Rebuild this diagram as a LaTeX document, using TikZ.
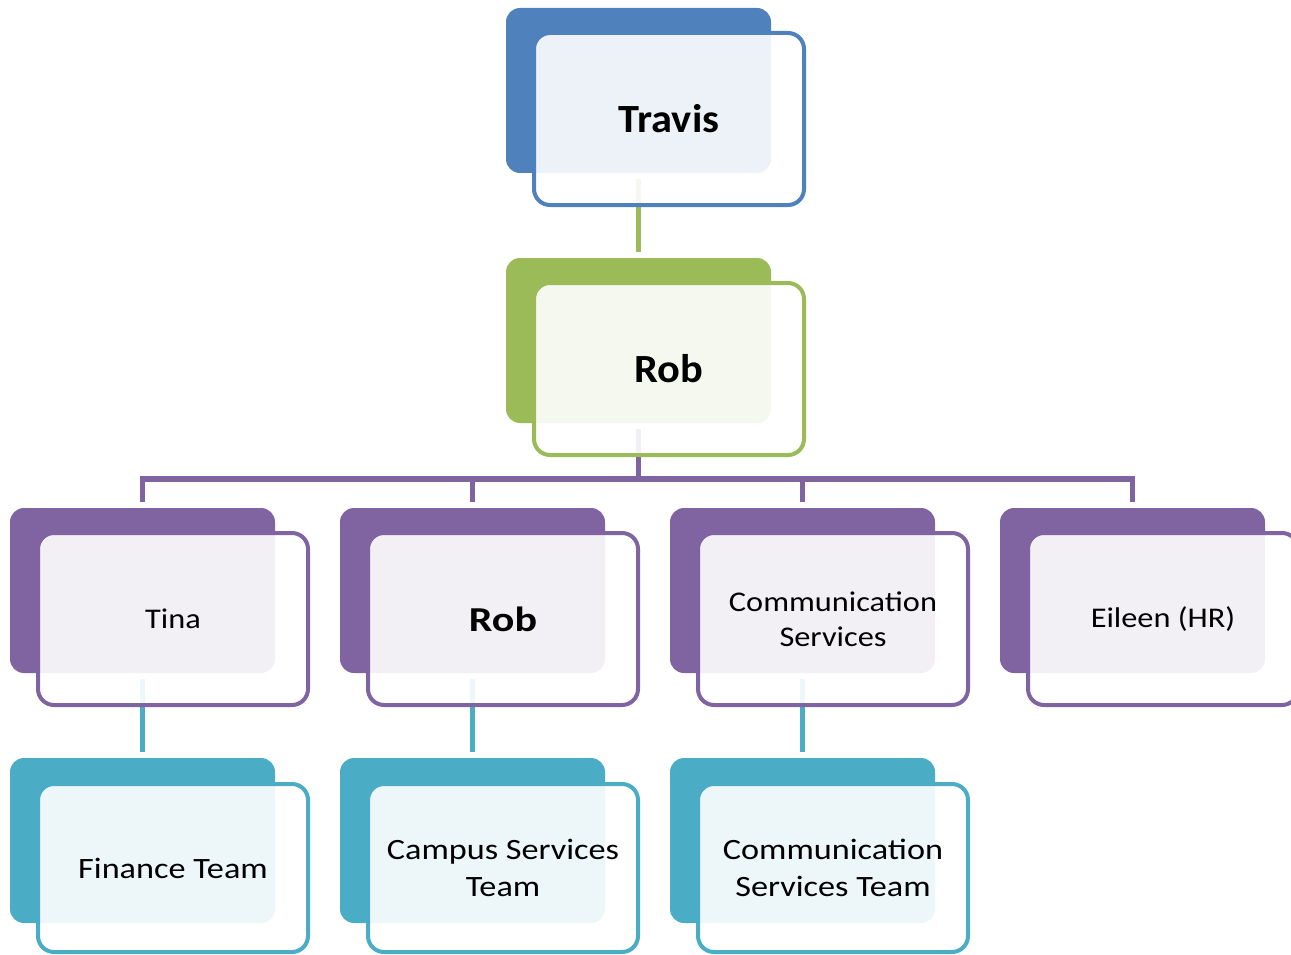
\documentclass[tikz,border=0pt]{standalone}
\usepackage{fontspec}
\setmainfont{Carlito}
\newfontfamily\topfont[FakeStretch=1.06]{Carlito}
\newfontfamily\rowfont[FakeStretch=1.16]{Carlito}
\newfontfamily\midfont[FakeStretch=1.135]{Carlito}
\newfontfamily\robfont[FakeStretch=1.2]{Carlito}
\usetikzlibrary{calc}
\definecolor{cblue}{HTML}{4F81BD}
\definecolor{cgreen}{HTML}{9BBB59}
\definecolor{cpurple}{HTML}{8064A2}
\definecolor{cteal}{HTML}{4BACC6}
\tikzset{
  backbox/.style={draw=none, fill=#1, rounded corners=14pt, minimum width=265pt, minimum height=165pt, inner sep=0pt, outer sep=0pt, anchor=north west},
  frontbox/.style={draw=#1, line width=4pt, fill=white, fill opacity=0.9, text opacity=1, rounded corners=16pt, minimum width=270pt, minimum height=172pt, inner sep=0pt, align=center, font=\midfont\fontsize{28.5}{35}\selectfont},
  lowbox/.style={frontbox=#1, minimum height=168pt, font=\rowfont\fontsize{29.5}{37}\selectfont},
  link/.style={draw=#1, line width=5.5pt},
  bigtext/.style={font=\topfont\fontsize{40}{46}\selectfont\bfseries},
  midtext/.style={font=\robfont\fontsize{35}{40}\selectfont\bfseries},
}
\begin{document}
\begin{tikzpicture}[x=1pt,y=-1pt]
\useasboundingbox (0,0) rectangle (1291,955);
\clip (0,0) rectangle (1291,955);
% back boxes
\node[backbox=cblue] (travisB) at (506,8) {};
\node[backbox=cgreen] (robB) at (506,258) {};
\node[backbox=cpurple] (tinaB) at (10,508) {};
\node[backbox=cpurple] (rob2B) at (340,508) {};
\node[backbox=cpurple] (commB) at (670,508) {};
\node[backbox=cpurple] (eileenB) at (1000,508) {};
\node[backbox=cteal] (finB) at (10,758) {};
\node[backbox=cteal] (campB) at (340,758) {};
\node[backbox=cteal] (cstB) at (670,758) {};
% connectors
\coordinate (bus) at ($(robB.south)+(0,56)$);
\draw[link=cgreen] ($(travisB.south)+(0,6)$) -- ($(robB.north)+(0,-6)$);
\draw[link=cpurple] ($(robB.south)+(0,6)$) -- (bus);
\draw[link=cpurple, line join=miter] ($(tinaB.north)+(0,-6)$) |- (bus) -| ($(eileenB.north)+(0,-6)$);
\draw[link=cpurple] ($(rob2B.north)+(0,-6)$) -- (rob2B.north |- bus);
\draw[link=cpurple] ($(commB.north)+(0,-6)$) -- (commB.north |- bus);
\draw[link=cteal] ($(tinaB.south)+(0,6)$) -- ($(finB.north)+(0,-6)$);
\draw[link=cteal] ($(rob2B.south)+(0,6)$) -- ($(campB.north)+(0,-6)$);
\draw[link=cteal] ($(commB.south)+(0,6)$) -- ($(cstB.north)+(0,-6)$);
% front boxes
\node[frontbox=cblue, bigtext] (travis) at (669,119) {Travis};
\node[frontbox=cgreen, bigtext] (rob) at (669,369) {Rob};
\node[frontbox=cpurple] (tina) at (173,619) {Tina};
\node[frontbox=cpurple, midtext] (rob2) at (503,619) {Rob};
\node[frontbox=cpurple] (comm) at (833,619) {Communication\\Services};
\node[frontbox=cpurple] (eileen) at (1163,619) {Eileen (HR)};
\node[lowbox=cteal] (fin) at (173,868) {Finance Team};
\node[lowbox=cteal] (camp) at (503,868) {Campus Services\\Team};
\node[lowbox=cteal] (cst) at (833,868) {Communication\\Services Team};
\end{tikzpicture}
\end{document}
